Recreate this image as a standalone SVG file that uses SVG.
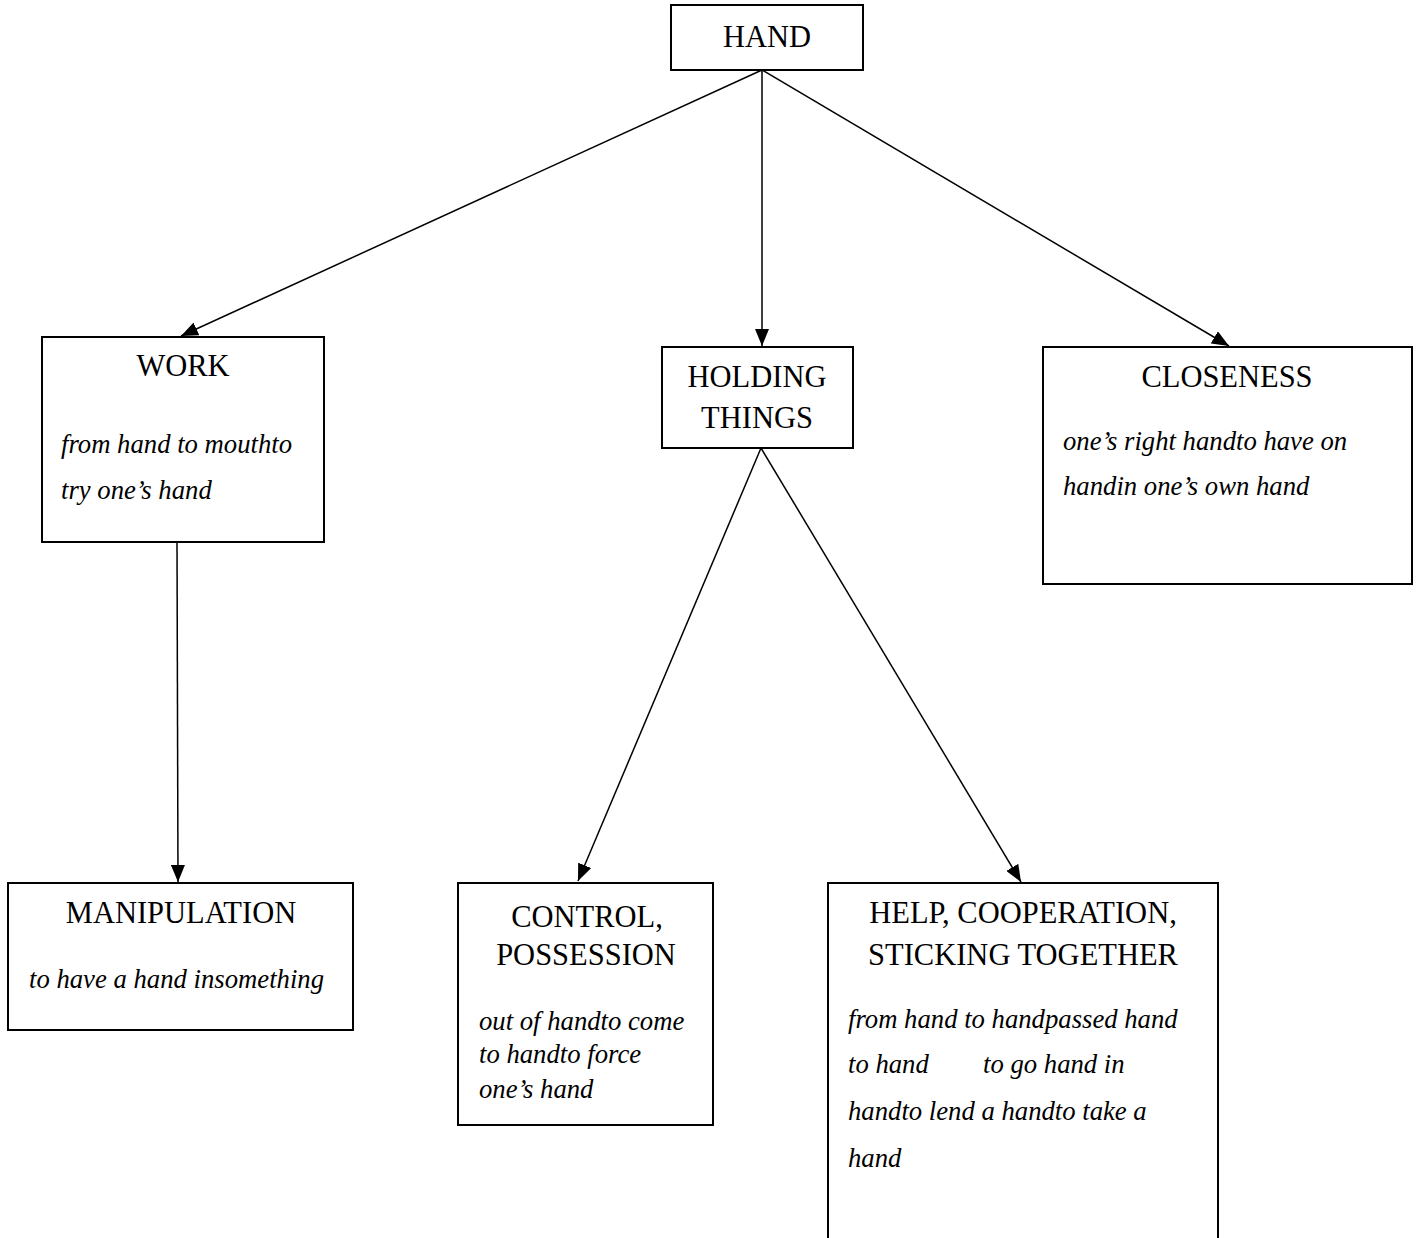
<svg xmlns="http://www.w3.org/2000/svg" width="1422" height="1238" viewBox="0 0 1422 1238">
<style>
.box{fill:#fff;stroke:#000;stroke-width:2}
.h{font-family:"Liberation Serif","Times New Roman",serif;font-size:30.5px;fill:#000;text-anchor:middle}
.i{font-family:"Liberation Serif","Times New Roman",serif;font-size:26.7px;font-style:italic;fill:#000}
.c{stroke:#000;stroke-width:1.5;fill:none;marker-end:url(#arr)}
</style>
<defs>
<marker id="arr" markerWidth="18" markerHeight="14" refX="17" refY="7" orient="auto" markerUnits="userSpaceOnUse">
<path d="M0,0 L17,7 L0,14 Z" fill="#000"/>
</marker>
</defs>
<rect width="1422" height="1238" fill="#fff"/>
<g id="connectors">
<line class="c" x1="762" y1="70" x2="181" y2="336"/>
<line class="c" x1="762" y1="70" x2="762" y2="346"/>
<line class="c" x1="762" y1="70" x2="1229" y2="346"/>
<line class="c" x1="177" y1="542" x2="178" y2="882"/>
<line class="c" x1="761" y1="448" x2="578" y2="881"/>
<line class="c" x1="761" y1="448" x2="1021" y2="882"/>
</g>
<g id="hand">
<rect class="box" x="671" y="5" width="192" height="65"/>
<text class="h" x="767" y="47">HAND</text>
</g>
<g id="work">
<rect class="box" x="42" y="337" width="282" height="205"/>
<text class="h" x="183" y="376">WORK</text>
<text class="i" x="61" y="453">from hand to mouthto</text>
<text class="i" x="61" y="499">try one’s hand</text>
</g>
<g id="holding">
<rect class="box" x="662" y="347" width="191" height="101"/>
<text class="h" x="757" y="387">HOLDING</text>
<text class="h" x="757" y="428">THINGS</text>
</g>
<g id="closeness">
<rect class="box" x="1043" y="347" width="369" height="237"/>
<text class="h" x="1227" y="387">CLOSENESS</text>
<text class="i" x="1063" y="450">one’s right handto have on</text>
<text class="i" x="1063" y="495">handin one’s own hand</text>
</g>
<g id="manipulation">
<rect class="box" x="8" y="883" width="345" height="147"/>
<text class="h" x="181" y="923">MANIPULATION</text>
<text class="i" x="29" y="988">to have a hand insomething</text>
</g>
<g id="control">
<rect class="box" x="458" y="883" width="255" height="242"/>
<text class="h" x="587" y="927">CONTROL,</text>
<text class="h" x="586" y="965">POSSESSION</text>
<text class="i" x="479" y="1030">out of handto come</text>
<text class="i" x="479" y="1063">to handto force</text>
<text class="i" x="479" y="1098">one’s hand</text>
</g>
<g id="help">
<path class="box" d="M828,1240 L828,883 L1218,883 L1218,1240"/>
<text class="h" x="1023" y="923">HELP, COOPERATION,</text>
<text class="h" x="1023" y="965">STICKING TOGETHER</text>
<text class="i" x="848" y="1028">from hand to handpassed hand</text>
<text class="i" x="848" y="1073">to hand</text>
<text class="i" x="983" y="1073">to go hand in</text>
<text class="i" x="848" y="1120">handto lend a handto take a</text>
<text class="i" x="848" y="1167">hand</text>
</g>
</svg>
